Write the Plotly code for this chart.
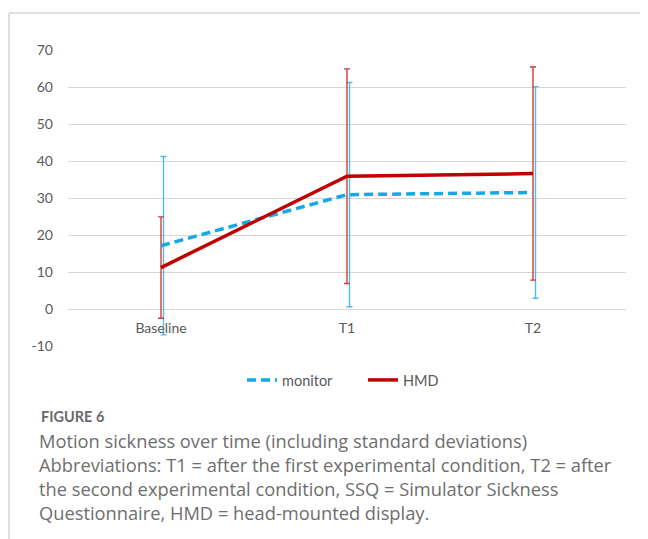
import plotly.graph_objects as go

# ---- data ----
categories = ["Baseline", "T1", "T2"]
monitor_mean = [17.1, 30.9, 31.5]
monitor_sd = [24.1, 30.3, 28.6]
hmd_mean = [11.2, 35.9, 36.6]
hmd_sd = [13.7, 29.0, 28.8]
y_ticks = [-10, 0, 10, 20, 30, 40, 50, 60, 70]
y_tick_labels = ["-10", "0", "10", "20", "30", "40", "50", "60", "70"]

caption_title = "FIGURE 6"
caption_lines = [
    "Motion sickness over time (including standard deviations)",
    "Abbreviations: T1 = after the first experimental condition, T2 = after",
    "the second experimental condition, SSQ = Simulator Sickness",
    "Questionnaire, HMD = head-mounted display.",
]

# ---- layout geometry ----
OFF = 8                      # default page body margin
W, H = 648 - OFF, 539 - OFF  # figure size
PLOT_L, PLOT_R, PLOT_T, PLOT_B = 68, 626, 50, 346   # plot area in page pixels
L, T = PLOT_L - OFF, PLOT_T - OFF
R, B = W - (PLOT_R - OFF), H - (PLOT_B - OFF)
PW = PLOT_R - PLOT_L
PH = PLOT_B - PLOT_T


def px_x(x):
    return (x - PLOT_L) / PW


def px_y(y):
    return (PLOT_B - y) / PH


xs = list(range(len(categories)))
cat_px = PW / len(categories)
mon_err_x = [x + 2.5 / cat_px for x in xs]

MON = "#12A9E6"
HMD = "#C00000"
TXT = "#595959"
CHART_FONT = "Lato"

fig = go.Figure()

fig.add_trace(go.Scatter(
    x=mon_err_x, y=monitor_mean, mode="markers",
    marker=dict(size=1, color="rgba(0,0,0,0)"),
    error_y=dict(type="data", array=monitor_sd, color="#4CBDEB", thickness=1.4, width=3),
    showlegend=False, hoverinfo="skip",
))
fig.add_trace(go.Scatter(
    x=xs, y=hmd_mean, mode="markers",
    marker=dict(size=1, color="rgba(0,0,0,0)"),
    error_y=dict(type="data", array=hmd_sd, color="#D23C3C", thickness=1.4, width=3),
    showlegend=False, hoverinfo="skip",
))
fig.add_trace(go.Scatter(
    x=xs, y=monitor_mean, mode="lines", name="monitor",
    line=dict(color=MON, width=3.5, dash="9px,5px"),
))
fig.add_trace(go.Scatter(
    x=xs, y=hmd_mean, mode="lines", name="HMD",
    line=dict(color=HMD, width=3.5),
))

annotations = [
    dict(text=caption_title, x=px_x(39), y=px_y(416), xref="paper", yref="paper",
         xanchor="left", yanchor="middle", showarrow=False,
         font=dict(family="Lato", size=14.5, color="#6a6a6a", weight="bold")),
]
for i, line in enumerate(caption_lines):
    annotations.append(dict(
        text=line, x=px_x(37), y=px_y(440 + 24.3 * i), xref="paper", yref="paper",
        xanchor="left", yanchor="middle", showarrow=False,
        font=dict(family="Open Sans", size=18.3, color="#6e6e6e"),
    ))

shapes = [
    dict(type="line", xref="paper", yref="paper",
         x0=px_x(9), x1=px_x(660), y0=px_y(13), y1=px_y(13),
         line=dict(color="#d6d6d6", width=1.5)),
    dict(type="line", xref="paper", yref="paper",
         x0=px_x(9), x1=px_x(9), y0=px_y(13), y1=px_y(560),
         line=dict(color="#d6d6d6", width=1.5)),
]

fig.update_layout(
    width=W, height=H,
    margin=dict(l=L, r=R, t=T, b=B),
    paper_bgcolor="white", plot_bgcolor="white",
    font=dict(family=CHART_FONT, size=14, color=TXT),
    showlegend=True,
    legend=dict(orientation="h", x=px_x(242), y=px_y(380), xanchor="left", yanchor="middle",
                font=dict(family=CHART_FONT, size=14.5, color=TXT),
                entrywidth=76, entrywidthmode="pixels", bgcolor="rgba(0,0,0,0)"),
    xaxis=dict(range=[-0.5, len(categories) - 0.5], tickvals=xs, ticktext=categories,
               showgrid=False, zeroline=False, showline=False, ticks="",
               anchor="free", position=(0 - y_ticks[0]) / (y_ticks[-1] - y_ticks[0]),
               ticklabelstandoff=9, fixedrange=True,
               tickfont=dict(family=CHART_FONT, size=14, color=TXT)),
    yaxis=dict(range=[y_ticks[0], y_ticks[-1]], tickvals=y_ticks, ticktext=y_tick_labels,
               showgrid=True, gridcolor="#d6d6d6", gridwidth=1.4,
               zeroline=False, showline=False, ticks="",
               ticklabelstandoff=14, fixedrange=True,
               tickfont=dict(family=CHART_FONT, size=14, color=TXT)),
    annotations=annotations,
    shapes=shapes,
)

fig.write_html("out.html")
